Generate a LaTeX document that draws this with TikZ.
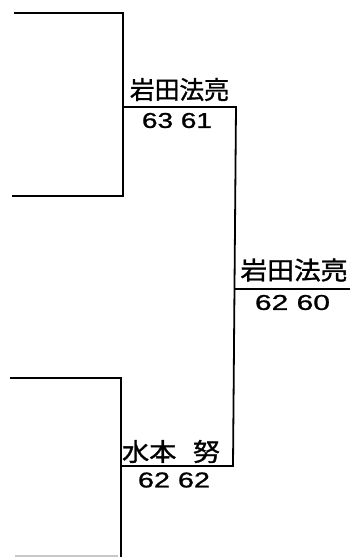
\documentclass[tikz,border=0pt]{standalone}
\usepackage{fontspec}
\newfontfamily\cjk[FakeBold=1.2]{Noto Sans CJK JP}
\newfontfamily\digitfont[FakeBold=1.0]{Liberation Sans}
\newcommand\jname[2]{\resizebox{#1}{21pt}{\cjk #2}}
\newcommand\jscore[2]{\resizebox{#1}{15pt}{\digitfont #2}}
\begin{document}
\begin{tikzpicture}[x=1pt,y=-1pt,
  bline/.style={line width=1.8pt,line cap=rect,black},
  faint/.style={line width=1.2pt,black!22},
  lbl/.style={inner sep=0pt,outer sep=0pt,anchor=center}]
\useasboundingbox (0,0) rectangle (350,557);
% corner coordinates
\coordinate (t1) at (15,13);
\coordinate (t2) at (123,13);
\coordinate (t3) at (123,196);
\coordinate (t4) at (13,196);
\coordinate (tm) at (123,107);
\coordinate (tr) at (236,107);
\coordinate (b1) at (11,378);
\coordinate (b2) at (121,378);
\coordinate (b3) at (121,557);
\coordinate (bm) at (121,466);
\coordinate (br) at (233,466);
\coordinate (fj) at (234.7,289);
\coordinate (fe) at (350,289);
\coordinate (bb1) at (15,556);
\coordinate (bb2) at (118,556);
% bracket lines
\draw[bline] (t1) -- (t2) -- (t3) -- (t4);
\draw[bline] (tm) -- (tr) -- (br) -- (bm);
\draw[bline] (b1) -- (b2) -- (b3);
\draw[bline] (fj) -- (fe);
\draw[faint] (bb1) -- (bb2);
% labels
\node[lbl] (n1) at (179.5,89.5) {\jname{99pt}{岩田法亮}};
\node[lbl] (s1) at (177,120.5) {\jscore{70pt}{63 61}};
\node[lbl] (n2) at (294,270) {\jname{107pt}{岩田法亮}};
\node[lbl] (s2) at (292.5,302.5) {\jscore{75pt}{62 60}};
\node[lbl] (n3) at (171,451.5) {\jname{98pt}{水本\hspace{0.6em}努}};
\node[lbl] (s3) at (174,480) {\jscore{72pt}{62 62}};
\end{tikzpicture}
\end{document}
